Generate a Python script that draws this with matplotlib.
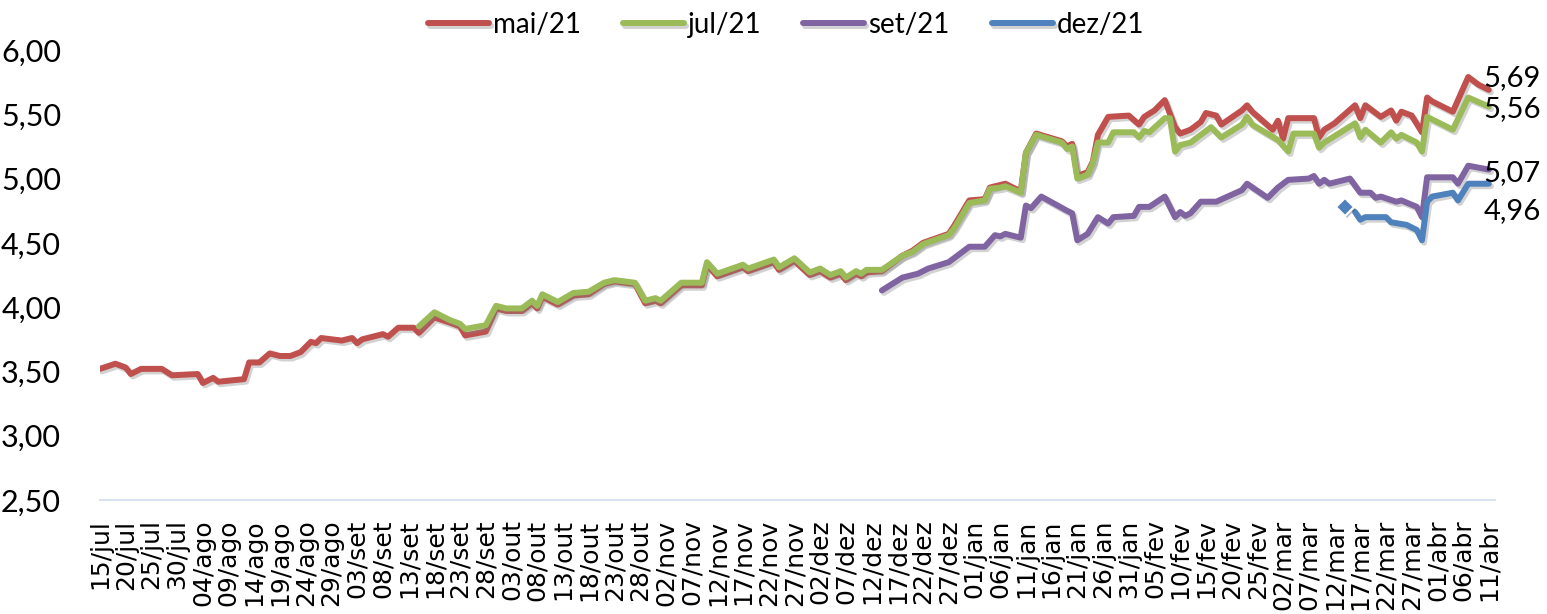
import matplotlib
matplotlib.use('Agg')
import matplotlib.pyplot as plt
import matplotlib.patheffects as pe
import pandas as pd

# ---- data ----
mai_datas = ['2020-07-15', '2020-07-18', '2020-07-20', '2020-07-21', '2020-07-23', '2020-07-27', '2020-07-29',
             '2020-08-03', '2020-08-04', '2020-08-06', '2020-08-07', '2020-08-12', '2020-08-13', '2020-08-15',
             '2020-08-17', '2020-08-19', '2020-08-21', '2020-08-23', '2020-08-25', '2020-08-26', '2020-08-27',
             '2020-08-31', '2020-09-02', '2020-09-03', '2020-09-04', '2020-09-08', '2020-09-09', '2020-09-11',
             '2020-09-14', '2020-09-15', '2020-09-18', '2020-09-21', '2020-09-23', '2020-09-24', '2020-09-28',
             '2020-09-30', '2020-10-02', '2020-10-05', '2020-10-07', '2020-10-08', '2020-10-09', '2020-10-12',
             '2020-10-15', '2020-10-18', '2020-10-21', '2020-10-23', '2020-10-27', '2020-10-29', '2020-10-31',
             '2020-11-01', '2020-11-05', '2020-11-09', '2020-11-10', '2020-11-12', '2020-11-17', '2020-11-18',
             '2020-11-23', '2020-11-24', '2020-11-27', '2020-11-30', '2020-12-02', '2020-12-04', '2020-12-06',
             '2020-12-07', '2020-12-09', '2020-12-10', '2020-12-11', '2020-12-14', '2020-12-18', '2020-12-20',
             '2020-12-22', '2020-12-27', '2020-12-28', '2020-12-31', '2021-01-03', '2021-01-04', '2021-01-06',
             '2021-01-07', '2021-01-10', '2021-01-11', '2021-01-13', '2021-01-18', '2021-01-19', '2021-01-20',
             '2021-01-21', '2021-01-23', '2021-01-24', '2021-01-25', '2021-01-27', '2021-01-31', '2021-02-02',
             '2021-02-03', '2021-02-05', '2021-02-07', '2021-02-09', '2021-02-10', '2021-02-12', '2021-02-14',
             '2021-02-15', '2021-02-17', '2021-02-18', '2021-02-22', '2021-02-23', '2021-02-24', '2021-02-28',
             '2021-03-01', '2021-03-02', '2021-03-03', '2021-03-08', '2021-03-09', '2021-03-10', '2021-03-12',
             '2021-03-16', '2021-03-17', '2021-03-18', '2021-03-21', '2021-03-23', '2021-03-24', '2021-03-25',
             '2021-03-27', '2021-03-29', '2021-03-30', '2021-03-31', '2021-04-04', '2021-04-07', '2021-04-09',
             '2021-04-11']
mai_vals = [3.52, 3.56, 3.53, 3.48, 3.52, 3.52, 3.47,
            3.48, 3.41, 3.45, 3.42, 3.44, 3.57, 3.57,
            3.64, 3.62, 3.62, 3.65, 3.73, 3.72, 3.76,
            3.74, 3.76, 3.72, 3.75, 3.79, 3.77, 3.84,
            3.84, 3.80, 3.92, 3.88, 3.85, 3.78, 3.81,
            3.99, 3.97, 3.97, 4.03, 3.99, 4.08, 4.02,
            4.09, 4.10, 4.18, 4.20, 4.18, 4.03, 4.05,
            4.03, 4.17, 4.17, 4.33, 4.24, 4.31, 4.28,
            4.35, 4.29, 4.36, 4.25, 4.28, 4.23, 4.26,
            4.21, 4.26, 4.24, 4.27, 4.28, 4.40, 4.44,
            4.50, 4.57, 4.63, 4.83, 4.84, 4.93, 4.95,
            4.96, 4.90, 5.20, 5.35, 5.29, 5.25, 5.27,
            5.02, 5.05, 5.13, 5.34, 5.48, 5.49, 5.42,
            5.48, 5.53, 5.61, 5.40, 5.35, 5.38, 5.44,
            5.51, 5.49, 5.42, 5.53, 5.57, 5.52, 5.38,
            5.45, 5.31, 5.47, 5.47, 5.32, 5.38, 5.43,
            5.57, 5.47, 5.57, 5.48, 5.53, 5.45, 5.52,
            5.49, 5.36, 5.63, 5.60, 5.52, 5.79, 5.73,
            5.69]

jul_datas = ['2020-09-15', '2020-09-18', '2020-09-21', '2020-09-23', '2020-09-24', '2020-09-28', '2020-09-30',
             '2020-10-02', '2020-10-05', '2020-10-07', '2020-10-08', '2020-10-09', '2020-10-12', '2020-10-15',
             '2020-10-18', '2020-10-21', '2020-10-23', '2020-10-27', '2020-10-29', '2020-10-31', '2020-11-01',
             '2020-11-05', '2020-11-09', '2020-11-10', '2020-11-12', '2020-11-17', '2020-11-18', '2020-11-23',
             '2020-11-24', '2020-11-27', '2020-11-30', '2020-12-02', '2020-12-04', '2020-12-06', '2020-12-07',
             '2020-12-09', '2020-12-10', '2020-12-11', '2020-12-14', '2020-12-18', '2020-12-20', '2020-12-22',
             '2020-12-27', '2020-12-28', '2020-12-31', '2021-01-03', '2021-01-04', '2021-01-06', '2021-01-07',
             '2021-01-10', '2021-01-11', '2021-01-13', '2021-01-18', '2021-01-19', '2021-01-20', '2021-01-21',
             '2021-01-23', '2021-01-24', '2021-01-25', '2021-01-27', '2021-01-28', '2021-02-01', '2021-02-02',
             '2021-02-03', '2021-02-04', '2021-02-07', '2021-02-08', '2021-02-09', '2021-02-10', '2021-02-12',
             '2021-02-14', '2021-02-16', '2021-02-18', '2021-02-22', '2021-02-23', '2021-02-24', '2021-03-01',
             '2021-03-03', '2021-03-04', '2021-03-08', '2021-03-09', '2021-03-10', '2021-03-16', '2021-03-17',
             '2021-03-18', '2021-03-21', '2021-03-23', '2021-03-24', '2021-03-25', '2021-03-28', '2021-03-29',
             '2021-03-30', '2021-04-04', '2021-04-07', '2021-04-11']
jul_vals = [3.85, 3.96, 3.90, 3.87, 3.83, 3.86, 4.01,
            3.99, 3.99, 4.05, 4.01, 4.10, 4.04, 4.11,
            4.12, 4.19, 4.21, 4.19, 4.05, 4.07, 4.05,
            4.19, 4.19, 4.35, 4.26, 4.33, 4.30, 4.37,
            4.31, 4.38, 4.27, 4.30, 4.25, 4.28, 4.23,
            4.28, 4.26, 4.29, 4.29, 4.40, 4.43, 4.49,
            4.56, 4.61, 4.81, 4.83, 4.92, 4.93, 4.94,
            4.89, 5.20, 5.34, 5.28, 5.23, 5.25, 5.00,
            5.03, 5.12, 5.28, 5.28, 5.36, 5.36, 5.32,
            5.37, 5.36, 5.47, 5.47, 5.21, 5.26, 5.28,
            5.34, 5.40, 5.32, 5.42, 5.48, 5.42, 5.30,
            5.21, 5.35, 5.35, 5.24, 5.28, 5.43, 5.32,
            5.38, 5.28, 5.36, 5.31, 5.34, 5.28, 5.21,
            5.48, 5.38, 5.63, 5.56]

set_datas = ['2020-12-14', '2020-12-18', '2020-12-21', '2020-12-23', '2020-12-27', '2020-12-31', '2021-01-03',
             '2021-01-05', '2021-01-06', '2021-01-07', '2021-01-10', '2021-01-11', '2021-01-12', '2021-01-14',
             '2021-01-19', '2021-01-20', '2021-01-21', '2021-01-23', '2021-01-25', '2021-01-27', '2021-01-28',
             '2021-02-01', '2021-02-02', '2021-02-04', '2021-02-07', '2021-02-09', '2021-02-10', '2021-02-11',
             '2021-02-12', '2021-02-14', '2021-02-17', '2021-02-22', '2021-02-23', '2021-02-27', '2021-03-01',
             '2021-03-03', '2021-03-07', '2021-03-08', '2021-03-09', '2021-03-10', '2021-03-11', '2021-03-15',
             '2021-03-17', '2021-03-19', '2021-03-20', '2021-03-21', '2021-03-24', '2021-03-25', '2021-03-28',
             '2021-03-29', '2021-03-30', '2021-04-04', '2021-04-05', '2021-04-07', '2021-04-11']
set_vals = [4.13, 4.23, 4.26, 4.30, 4.35, 4.47, 4.47,
            4.56, 4.55, 4.57, 4.54, 4.79, 4.77, 4.86,
            4.75, 4.73, 4.52, 4.57, 4.70, 4.65, 4.70,
            4.71, 4.78, 4.78, 4.86, 4.70, 4.74, 4.71,
            4.73, 4.82, 4.82, 4.91, 4.96, 4.85, 4.93,
            4.99, 5.00, 5.02, 4.96, 4.99, 4.96, 5.00,
            4.89, 4.89, 4.85, 4.86, 4.82, 4.83, 4.78,
            4.70, 5.01, 5.01, 4.96, 5.10, 5.07]

dez_ponto_data = '2021-03-14'   # isolated first quote (shown as a marker)
dez_ponto_val = 4.78
dez_datas = ['2021-03-16', '2021-03-17', '2021-03-18', '2021-03-21', '2021-03-22', '2021-03-23', '2021-03-26',
             '2021-03-28', '2021-03-29', '2021-03-30', '2021-03-31', '2021-04-04', '2021-04-05', '2021-04-07',
             '2021-04-11']
dez_vals = [4.74, 4.68, 4.70, 4.70, 4.70, 4.66, 4.64,
            4.60, 4.52, 4.82, 4.86, 4.89, 4.83, 4.96,
            4.96]

meses = ['jan', 'fev', 'mar', 'abr', 'mai', 'jun', 'jul', 'ago', 'set', 'out', 'nov', 'dez']
tick_datas = pd.date_range('2020-07-15', '2021-04-11', freq='5D')

# ---- styling ----
cores = {'mai/21': '#C0504D', 'jul/21': '#9BBB59', 'set/21': '#8064A2', 'dez/21': '#4F81BD'}
sombra = [pe.SimpleLineShadow(offset=(1.5, -1.8), shadow_color='#808080', alpha=0.35), pe.Normal()]
LW = 4.3

plt.rcParams['font.family'] = ['Lato', 'DejaVu Sans']

fig = plt.figure(figsize=(15.47, 6.14), dpi=100)
ax = fig.add_axes([100 / 1547, 1 - 500 / 614, 1395 / 1547, 450 / 614])

series = [('mai/21', mai_datas, mai_vals), ('jul/21', jul_datas, jul_vals),
          ('set/21', set_datas, set_vals), ('dez/21', dez_datas, dez_vals)]
for nome, datas, vals in series:
    ax.plot(pd.to_datetime(datas), vals, color=cores[nome], lw=LW, label=nome,
            solid_joinstyle='round', solid_capstyle='round', path_effects=sombra)

ax.plot(pd.to_datetime([dez_ponto_data]), [dez_ponto_val], ls='none', marker='D', ms=9,
        color=cores['dez/21'], mec='white', mew=1.5,
        path_effects=[pe.SimplePatchShadow(offset=(1.5, -1.5), alpha=0.3), pe.Normal()])

# end-of-line value labels
offs = {'mai/21': (-5, 12), 'jul/21': (-5, -2), 'set/21': (-5, -3), 'dez/21': (-5, -27)}
for nome, datas, vals in series:
    ax.annotate(f'{vals[-1]:.2f}'.replace('.', ','), (pd.to_datetime(datas[-1]), vals[-1]),
                xytext=offs[nome], textcoords='offset pixels', ha='left', va='center',
                fontsize=21, color='black')

t0 = pd.Timestamp('2020-07-15')
ax.set_xlim(t0, t0 + pd.Timedelta(days=271.2))
ax.set_ylim(2.5, 6.0)
ax.set_yticks([2.5, 3.0, 3.5, 4.0, 4.5, 5.0, 5.5, 6.0])
ax.set_yticklabels([f'{v:.2f}'.replace('.', ',') for v in ax.get_yticks()], fontsize=22)
ax.set_xticks(tick_datas)
ax.set_xticklabels([f'{d.day:02d}/{meses[d.month - 1]}' for d in tick_datas],
                   rotation=90, fontsize=18, family='DejaVu Sans')
ax.tick_params(axis='x', length=0, pad=14)
ax.tick_params(axis='y', length=0, pad=28)

for s in ['top', 'right', 'left']:
    ax.spines[s].set_visible(False)
ax.spines['bottom'].set_color('#D9E2F0')
ax.spines['bottom'].set_linewidth(1.5)

fig.legend(loc='center', bbox_to_anchor=(786 / 1547, 1 - 25 / 614), ncol=4, frameon=False,
           fontsize=20, handlelength=2.2, handletextpad=0.15, columnspacing=1.5)

fig.savefig('out.png', dpi=100)
